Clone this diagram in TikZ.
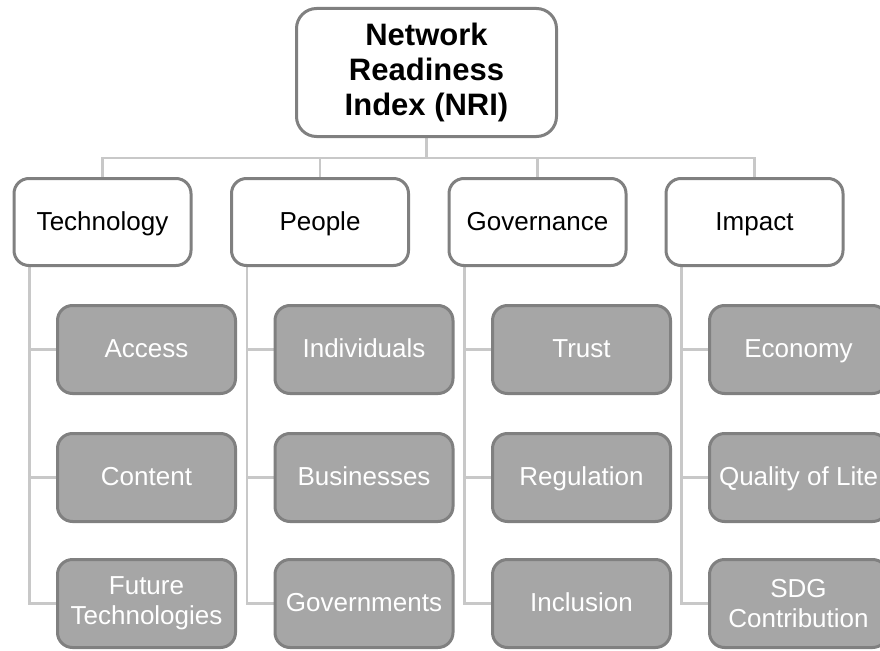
\documentclass[tikz,border=0pt]{standalone}
\usepackage{fontspec}
\setmainfont{Liberation Sans}
\usetikzlibrary{backgrounds}

\definecolor{boxline}{RGB}{128,128,128}
\definecolor{boxfill}{RGB}{166,166,166}
\definecolor{linkgray}{RGB}{200,200,200}

\tikzset{
    rootbox/.style={draw=boxline, line width=3pt, rounded corners=20pt, fill=white,
        minimum width=260pt, minimum height=128pt, align=center,
        font=\fontsize{31}{35}\selectfont\bfseries},
    pillar/.style={draw=boxline, line width=3pt, rounded corners=15pt, fill=white,
        minimum width=177pt, minimum height=87pt, align=center,
        text height=20pt, text depth=4pt,
        font=\fontsize{26}{30}\selectfont},
    subitem/.style={pillar, fill=boxfill, text=white, minimum width=178pt, minimum height=88pt},
    % two lines of text: let the box take its own height
    twoline/.style={subitem, text height=, text depth=},
    link/.style={draw=linkgray, line width=2.5pt}
}

\begin{document}
\begin{tikzpicture}[x=1pt, y=-1pt]
        \useasboundingbox (0,0) rectangle (880,650);

        \node[rootbox] (nri) at (426.5,72.5) {Network\\Readiness\\Index (NRI)};

        \node[pillar] (tech) at (102.5,222) {Technology};
        \node[pillar] (people) at (320,222) {People};
        \node[pillar] (gov) at (537.5,222) {Governance};
        \node[pillar] (impact) at (754.5,222) {Impact};

        \node[subitem] (access) at (146.5,349.5) {Access};
        \node[subitem] (content) at (146.5,477.5) {Content};
        \node[twoline] (future) at (146.5,603.5) {Future\\Technologies};

        \node[subitem] (indiv) at (364,349.5) {Individuals};
        \node[subitem] (business) at (364,477.5) {Businesses};
        \node[subitem] (govts) at (364,603.5) {Governments};

        \node[subitem] (trust) at (581.5,349.5) {Trust};
        \node[subitem] (regul) at (581.5,477.5) {Regulation};
        \node[subitem] (incl) at (581.5,603.5) {Inclusion};

        \node[subitem] (economy) at (798.5,349.5) {Economy};
        \node[subitem] (life) at (798.5,477.5) {Quality of Lite};
        \node[twoline] (sdg) at (798.5,603.5) {SDG\\Contribution};

        \begin{scope}[on background layer]
            \draw[link] (nri.south) -- ++(0,20) -| (tech.north);
            \draw[link] (nri.south) -- ++(0,20) -| (people.north);
            \draw[link] (nri.south) -- ++(0,20) -| (gov.north);
            \draw[link] (nri.south) -- ++(0,20) -| (impact.north);

            \draw[link] ([xshift=17pt]tech.south west) |- (access.west);
            \draw[link] ([xshift=17pt]tech.south west) |- (content.west);
            \draw[link] ([xshift=17pt]tech.south west) |- (future.west);

            \draw[link] ([xshift=17pt]people.south west) |- (indiv.west);
            \draw[link] ([xshift=17pt]people.south west) |- (business.west);
            \draw[link] ([xshift=17pt]people.south west) |- (govts.west);

            \draw[link] ([xshift=17pt]gov.south west) |- (trust.west);
            \draw[link] ([xshift=17pt]gov.south west) |- (regul.west);
            \draw[link] ([xshift=17pt]gov.south west) |- (incl.west);

            \draw[link] ([xshift=17pt]impact.south west) |- (economy.west);
            \draw[link] ([xshift=17pt]impact.south west) |- (life.west);
            \draw[link] ([xshift=17pt]impact.south west) |- (sdg.west);
        \end{scope}
    \end{tikzpicture}
\end{document}
